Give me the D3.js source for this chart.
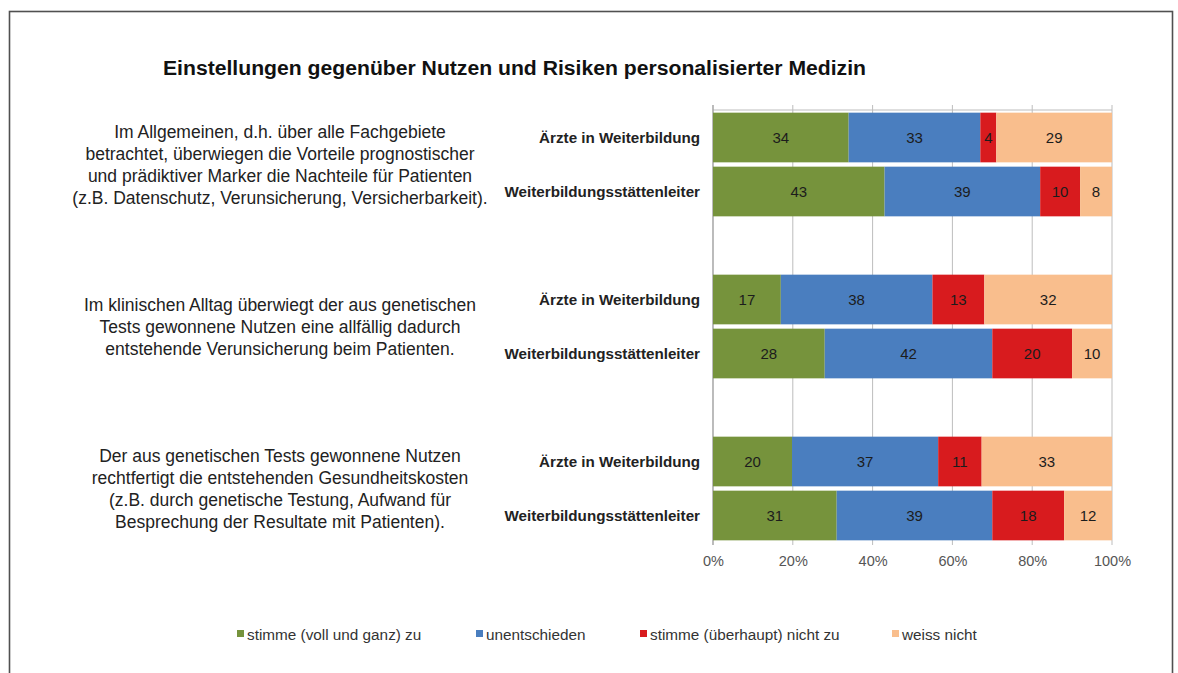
<!DOCTYPE html>
<html>
<head>
<meta charset="utf-8">
<script src="https://cdn.jsdelivr.net/npm/d3@7"></script>
<style>
  html, body { margin: 0; padding: 0; background: #fff; }
  svg { display: block; font-family: "Liberation Sans", Arial, sans-serif; }
</style>
</head>
<body>
<svg id="chart" width="1178" height="673"></svg>
<script>
// ---- data ----
const title = "Einstellungen gegenüber Nutzen und Risiken personalisierter Medizin";
const statements = [
  ["Im Allgemeinen, d.h. über alle Fachgebiete",
   "betrachtet, überwiegen die Vorteile prognostischer",
   "und prädiktiver Marker die Nachteile für Patienten",
   "(z.B. Datenschutz, Verunsicherung, Versicherbarkeit)."],
  ["Im klinischen Alltag überwiegt der aus genetischen",
   "Tests gewonnene Nutzen eine allfällig dadurch",
   "entstehende Verunsicherung beim Patienten."],
  ["Der aus genetischen Tests gewonnene Nutzen",
   "rechtfertigt die entstehenden Gesundheitskosten",
   "(z.B. durch genetische Testung, Aufwand für",
   "Besprechung der Resultate mit Patienten)."]
];
const respondents = ["Ärzte in Weiterbildung", "Weiterbildungsstättenleiter"];
const seriesNames = ["stimme (voll und ganz) zu", "unentschieden", "stimme (überhaupt) nicht zu", "weiss nicht"];
// one value per bar, in order: statement 1 (Ärzte, Leiter), statement 2 (...), statement 3 (...)
const zustimmung     = [34, 43, 17, 28, 20, 31];
const unentschieden  = [33, 39, 38, 42, 37, 39];
const ablehnung      = [4, 10, 13, 20, 11, 18];
const weissNicht     = [29, 8, 32, 10, 33, 12];
const tickValues = [0, 0.2, 0.4, 0.6, 0.8, 1.0];
const colors = ["#76933C", "#4A7EBF", "#D81B1E", "#F9BE8D"];

// ---- build rows ----
const seriesValues = [zustimmung, unentschieden, ablehnung, weissNicht];
const rows = [];
statements.forEach((s, gi) => {
  respondents.forEach((r, ri) => {
    const idx = gi * 2 + ri;
    const vals = seriesValues.map(a => a[idx]);
    rows.push({ key: "g" + gi + "r" + ri, group: gi, label: r, vals });
  });
  if (gi < statements.length - 1) rows.push({ key: "gap" + gi, gap: true });
});

const svg = d3.select("#chart");

// frame
svg.append("rect").attr("x", 9.5).attr("y", 11.5).attr("width", 1163).attr("height", 720)
  .attr("fill", "none").attr("stroke", "#505050").attr("stroke-width", 1.6);

// title
svg.append("text").attr("x", 163).attr("y", 75)
  .attr("font-size", 20).attr("font-weight", "bold").attr("fill", "#111")
  .attr("textLength", 703).attr("lengthAdjust", "spacingAndGlyphs")
  .text(title);

const x = d3.scaleLinear().domain([0, 1]).range([713, 1112]);
const y = d3.scaleBand().domain(rows.map(d => d.key)).range([110.5, 542.5])
  .paddingInner(0.08).paddingOuter(0.04);

const plotTop = 110, plotBottom = 545;

// gridlines
svg.append("g").selectAll("line").data(tickValues).join("line")
  .attr("x1", d => x(d)).attr("x2", d => x(d))
  .attr("y1", plotTop - 5).attr("y2", plotBottom)
  .attr("stroke", "#BDBDBD").attr("stroke-width", 1);
svg.append("line").attr("x1", x(0)).attr("x2", x(1)).attr("y1", plotTop).attr("y2", plotTop)
  .attr("stroke", "#BDBDBD").attr("stroke-width", 1);
svg.append("line").attr("x1", x(0)).attr("x2", x(0)).attr("y1", plotTop - 5).attr("y2", plotBottom)
  .attr("stroke", "#999").attr("stroke-width", 1);

// bottom axis labels
const axis = d3.axisBottom(x).tickValues(tickValues).tickFormat(d3.format(".0%")).tickSize(0).tickPadding(0);
const ag = svg.append("g").attr("transform", `translate(0,${plotBottom + 11})`).call(axis);
ag.select(".domain").remove();
ag.selectAll("text").attr("font-size", 14.5).attr("fill", "#555")
  .attr("font-family", "Liberation Sans, Arial, sans-serif");

// bars
const barRows = rows.filter(d => !d.gap);
const barG = svg.append("g");
barRows.forEach(row => {
  const total = d3.sum(row.vals);
  let acc = 0;
  row.vals.forEach((v, si) => {
    const x0 = x(acc / total), x1 = x((acc + v) / total);
    acc += v;
    barG.append("rect").attr("x", x0).attr("y", y(row.key))
      .attr("width", x1 - x0).attr("height", y.bandwidth()).attr("fill", colors[si]);
    barG.append("text").attr("x", (x0 + x1) / 2).attr("y", y(row.key) + y.bandwidth() / 2)
      .attr("dy", "0.36em").attr("text-anchor", "middle").attr("font-size", 15)
      .attr("fill", "#1c1c1c").text(v);
  });
  // row label
  svg.append("text").attr("x", 700).attr("y", y(row.key) + y.bandwidth() / 2)
    .attr("dy", "0.36em").attr("text-anchor", "end").attr("font-size", 15.2)
    .attr("font-weight", "bold").attr("fill", "#222").text(row.label);
});

// statements
statements.forEach((lines, gi) => {
  const a = y("g" + gi + "r0"), b = y("g" + gi + "r1") + y.bandwidth();
  const cy = (a + b) / 2;
  const lh = 22;
  const t = svg.append("text").attr("text-anchor", "middle").attr("font-size", 17.5).attr("fill", "#222");
  lines.forEach((ln, li) => {
    t.append("tspan").attr("x", 280)
      .attr("y", cy + (li - (lines.length - 1) / 2) * lh)
      .attr("dy", "0.36em").text(ln);
  });
});

// legend
const legendX = [237, 476, 640, 892];
const lg = svg.append("g");
seriesNames.forEach((n, i) => {
  lg.append("rect").attr("x", legendX[i]).attr("y", 630).attr("width", 7).attr("height", 7).attr("fill", colors[i]);
  lg.append("text").attr("x", legendX[i] + 10).attr("y", 634).attr("dy", "0.36em")
    .attr("font-size", 15.3).attr("fill", "#333").text(n);
});
</script>
</body>
</html>
